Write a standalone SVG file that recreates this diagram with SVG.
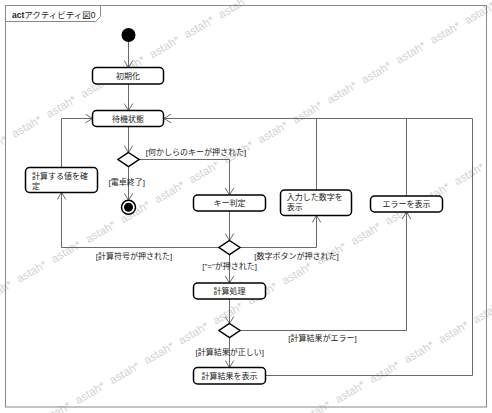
<svg xmlns="http://www.w3.org/2000/svg" width="492" height="413" viewBox="0 0 492 413">
<style>
.wm{font-family:"Liberation Sans",sans-serif;font-size:11.5px;fill:#d3d3d3;word-spacing:4px}
.ln{fill:none;stroke:#6a6a6a;stroke-width:1}
.box{fill:#fff;stroke:#000;stroke-width:1.5}
.t{font-family:"Liberation Sans","Noto Sans CJK JP",sans-serif;font-size:8px;fill:#222}
.c{text-anchor:middle}
</style>
<defs>
<marker id="arr" markerUnits="userSpaceOnUse" markerWidth="10" markerHeight="10" viewBox="0 0 10 10" refX="8" refY="5" orient="auto">
<path d="M1,0.7 L8,5 L1,9.3" fill="none" stroke="#6a6a6a" stroke-width="1"/>
</marker>
</defs>
<rect width="492" height="413" fill="#fff"/>
<g id="watermark">
<text class="wm" transform="translate(-20,158) rotate(-30)">astah* astah* astah* astah* astah* astah* astah* astah* astah* astah* astah* astah* astah* astah* astah* astah*</text>
<text class="wm" transform="translate(-15,303) rotate(-30)">astah* astah* astah* astah* astah* astah* astah* astah* astah* astah* astah* astah* astah* astah* astah* astah*</text>
<text class="wm" transform="translate(-60,484) rotate(-30)">astah* astah* astah* astah* astah* astah* astah* astah* astah* astah* astah* astah* astah* astah* astah* astah*</text>
<text class="wm" transform="translate(200,483) rotate(-30)">astah* astah* astah* astah* astah* astah* astah* astah* astah* astah* astah* astah*</text>
</g>
<g id="frame">
<rect x="5.5" y="5.5" width="481" height="401.5" fill="none" stroke="#888" stroke-width="1"/>
<path d="M5.5,21.5 H95.5 L100.5,16.5 V5.5" fill="none" stroke="#888" stroke-width="1"/>
<text class="t" x="12" y="17.5" style="font-size:8.5px"><tspan font-weight="bold">act</tspan>アクティビティ図0</text>
</g>
<g id="connectors">
<path class="ln" d="M128.5,42 V67.5" marker-end="url(#arr)"/>
<path class="ln" d="M128.5,84 V110.5" marker-end="url(#arr)"/>
<path class="ln" d="M61.5,167.5 V118.5 H92.5" marker-end="url(#arr)"/>
<path class="ln" d="M265.5,375.5 H472.5 V118.5 H164" marker-end="url(#arr)"/>
<path class="ln" d="M316.5,190 V118.5"/>
<path class="ln" d="M406.5,196 V118.5"/>
<path class="ln" d="M128.5,127 V152.5" marker-end="url(#arr)"/>
<path class="ln" d="M139,159.5 H229.5 V195" marker-end="url(#arr)"/>
<path class="ln" d="M128.5,166.5 V200.3" marker-end="url(#arr)"/>
<path class="ln" d="M229.5,211 V240.5" marker-end="url(#arr)"/>
<path class="ln" d="M219,247.5 H61.5 V192.5" marker-end="url(#arr)"/>
<path class="ln" d="M240,247.5 H316.5 V215.5" marker-end="url(#arr)"/>
<path class="ln" d="M229.5,254.5 V283" marker-end="url(#arr)"/>
<path class="ln" d="M229.5,299 V323.5" marker-end="url(#arr)"/>
<path class="ln" d="M240,330.5 H406.5 V212" marker-end="url(#arr)"/>
<path class="ln" d="M229.5,337.5 V367.5" marker-end="url(#arr)"/>
<text class="t" x="145.7" y="154.5">[何かしらのキーが押された]</text>
<text class="t" x="108.5" y="184.5">[電卓終了]</text>
<text class="t" x="95.7" y="258.5">[計算符号が押された]</text>
<text class="t" x="254.3" y="258.5">[数字ボタンが押された]</text>
<text class="t" x="202.3" y="268.5">["="が押された]</text>
<text class="t" x="288.3" y="341">[計算結果がエラー]</text>
<text class="t" x="195.5" y="355">[計算結果が正しい]</text>
</g>
<g id="initial"><circle cx="128.5" cy="35" r="7" fill="#000"/></g>
<g id="init"><rect class="box" x="92.5" y="67.5" width="71" height="16.5" rx="4"/><text class="t c" x="128" y="78.8">初期化</text></g>
<g id="wait"><rect class="box" x="92.5" y="110.5" width="71" height="16" rx="4"/><text class="t c" x="128" y="121.5">待機状態</text></g>
<g id="decision1"><polygon class="box" points="128.5,152.5 139,159.5 128.5,166.5 118,159.5"/></g>
<g id="final"><circle cx="128.5" cy="207.3" r="7" fill="#fff" stroke="#000" stroke-width="1.5"/><circle cx="128.5" cy="207.3" r="4.5" fill="#000"/></g>
<g id="fixvalue"><rect class="box" x="25.5" y="167.5" width="72" height="25" rx="4"/><text class="t" x="32" y="178.5">計算する値を確</text><text class="t" x="32" y="188.5">定</text></g>
<g id="keyjudge"><rect class="box" x="193.5" y="195" width="72" height="16" rx="4"/><text class="t c" x="229.5" y="206">キー判定</text></g>
<g id="shownum"><rect class="box" x="280.5" y="190" width="71" height="25.5" rx="4"/><text class="t" x="286.7" y="200">入力した数字を</text><text class="t" x="286.7" y="210">表示</text></g>
<g id="showerr"><rect class="box" x="370.5" y="196" width="72" height="16" rx="4"/><text class="t c" x="406.5" y="207">エラーを表示</text></g>
<g id="decision2"><polygon class="box" points="229.5,240.5 240,247.5 229.5,254.5 219,247.5"/></g>
<g id="calc"><rect class="box" x="193.5" y="283" width="72" height="16" rx="4"/><text class="t c" x="229.5" y="294">計算処理</text></g>
<g id="decision3"><polygon class="box" points="229.5,323.5 240,330.5 229.5,337.5 219,330.5"/></g>
<g id="showresult"><rect class="box" x="193.5" y="367.5" width="72" height="16.5" rx="4"/><text class="t c" x="229.5" y="378.8">計算結果を表示</text></g>
</svg>
